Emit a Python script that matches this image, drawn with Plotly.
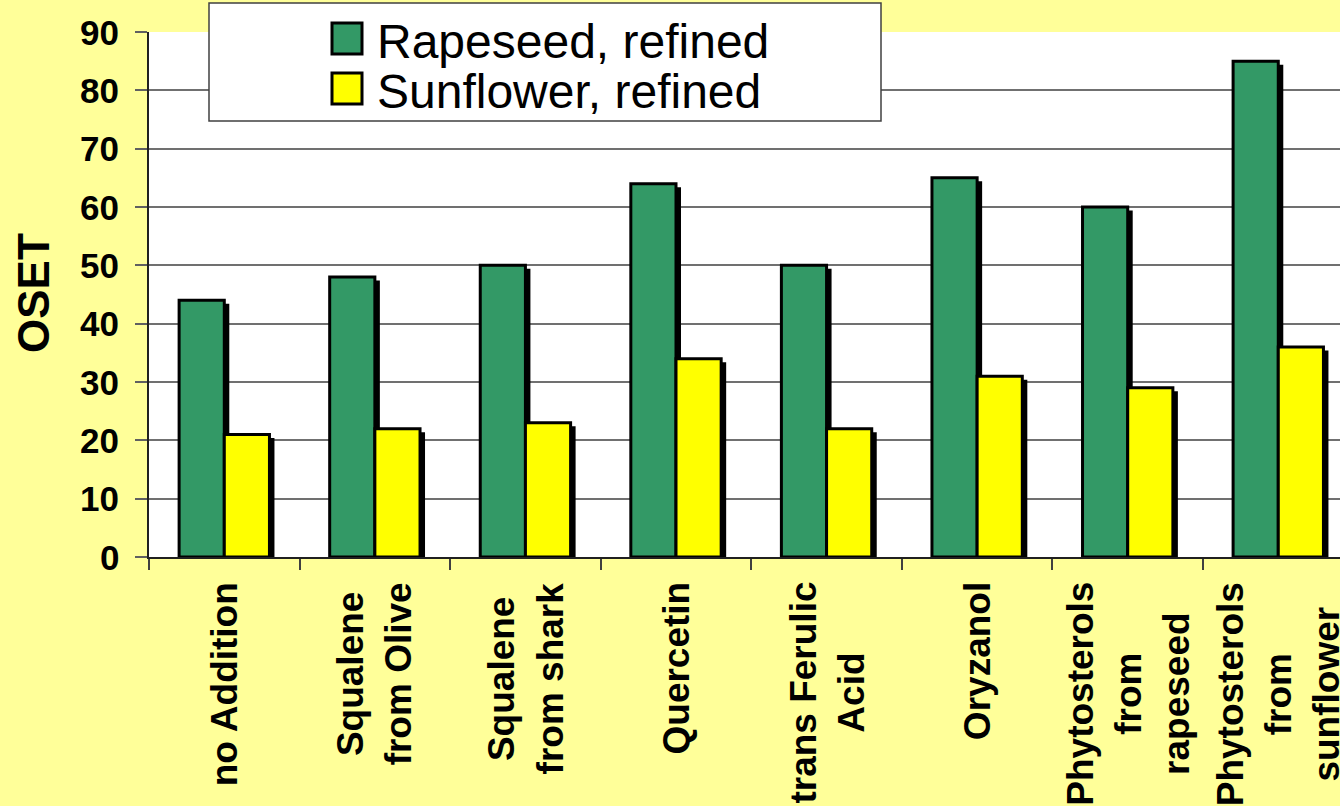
import plotly.graph_objects as go

# Oxidative stability (OSET) of refined oils with different additives
categories = [
    "no Addition",
    "Squalene<br>from Olive",
    "Squalene<br>from shark",
    "Quercetin",
    "trans Ferulic<br>Acid",
    "Oryzanol",
    "Phytosterols<br>from<br>rapeseed",
    "Phytosterols<br>from<br>sunflower",
]
rapeseed = [44, 48, 50, 64, 50, 65, 60, 85]
sunflower = [21, 22, 23, 34, 22, 31, 29, 36]
series_names = ["Rapeseed, refined", "Sunflower, refined"]
y_ticks = list(range(0, 100, 10))

GREEN = "#339966"
YELLOW = "#FFFF00"
PAPER = "#FFFF99"
FONT = "Liberation Sans, Arial, sans-serif"

W, H = 1340, 806
M_L, M_R, M_T, M_B = 149, 0, 32, 249
plot_w = W - M_L - M_R
plot_h = H - M_T - M_B
cat_px = 150.57                      # pixel width of one category slot
x_hi = -0.5 + plot_w / cat_px        # last slot runs a little past the edge
bar_w = 0.3
sh_dx = 5 / cat_px                   # drop shadow offset (right)
sh_dy = 3.5 * 90 / plot_h            # drop shadow offset (down), in data units

idx = list(range(len(categories)))

fig = go.Figure()
for vals, color, off in [(rapeseed, GREEN, -bar_w), (sunflower, YELLOW, 0.0)]:
    # black drop shadow behind each bar
    fig.add_trace(go.Bar(
        x=idx, y=[v - sh_dy for v in vals], width=bar_w, offset=off + sh_dx,
        marker=dict(color="black", line=dict(width=0)),
        showlegend=False, hoverinfo="skip",
    ))
for vals, color, off, name in [(rapeseed, GREEN, -bar_w, series_names[0]),
                               (sunflower, YELLOW, 0.0, series_names[1])]:
    fig.add_trace(go.Bar(
        x=idx, y=vals, width=bar_w, offset=off, name=name,
        marker=dict(color=color, line=dict(color="black", width=3)),
        showlegend=False,
    ))


def px_x(p):
    return (p - M_L) / plot_w


def px_y(p):
    return (H - M_B - p) / plot_h


shapes = []
annotations = []

# legend box drawn by hand so the swatches can be large
shapes.append(dict(type="rect", xref="paper", yref="paper",
                   x0=px_x(209), x1=px_x(881), y0=px_y(121), y1=px_y(3),
                   fillcolor="white", line=dict(color="#404040", width=1.5), layer="above"))
for i, (name, color) in enumerate(zip(series_names, [GREEN, YELLOW])):
    cy = 38.5 + 50 * i
    shapes.append(dict(type="rect", xref="paper", yref="paper",
                       x0=px_x(332), x1=px_x(362), y0=px_y(cy + 15.5), y1=px_y(cy - 15.5),
                       fillcolor=color, line=dict(color="black", width=3), layer="above"))
    annotations.append(dict(text=name, xref="paper", yref="paper",
                            x=px_x(375), y=px_y(cy + 3), xanchor="left", yanchor="middle",
                            showarrow=False, font=dict(family=FONT, size=48, color="black")))

# y tick labels, set a little further from the axis than the default
for v in y_ticks:
    annotations.append(dict(text=str(v), xref="paper", yref="y", x=px_x(121), y=v,
                            xanchor="right", yanchor="middle", showarrow=False,
                            font=dict(family=FONT, size=35, color="black", weight="bold")))

# rotated category labels under each slot
for i, lab in zip(idx, categories):
    annotations.append(dict(text=lab, xref="x", yref="paper", x=i, y=px_y(580),
                            xanchor="center", yanchor="top", textangle=-90, align="center",
                            showarrow=False,
                            font=dict(family=FONT, size=37, color="black", weight="bold")))

# y axis title
annotations.append(dict(text="OSET", xref="paper", yref="paper", x=px_x(33), y=px_y(293),
                        xanchor="center", yanchor="middle", textangle=-90, showarrow=False,
                        font=dict(family=FONT, size=44, color="black", weight="bold")))

fig.update_layout(
    width=W, height=H,
    margin=dict(l=M_L, r=M_R, t=M_T, b=M_B, autoexpand=False),
    paper_bgcolor=PAPER, plot_bgcolor="white",
    barmode="overlay", showlegend=False,
    shapes=shapes, annotations=annotations,
    xaxis=dict(range=[-0.5, x_hi], tickvals=[i - 0.5 for i in range(len(categories) + 1)],
               showticklabels=False, ticks="outside", ticklen=11, tickwidth=1.5,
               tickcolor="#404040", showgrid=False, zeroline=False,
               showline=True, linecolor="#202020", linewidth=1.5, fixedrange=True),
    yaxis=dict(range=[0, 90], tickvals=y_ticks, showticklabels=False,
               ticks="outside", ticklen=12, tickwidth=1.5,
               tickcolor="#606060", showgrid=True, gridcolor="#707070", gridwidth=1.5,
               zeroline=False, showline=True, linecolor="#202020", linewidth=1.5,
               fixedrange=True),
)

fig.write_html("out.html")
